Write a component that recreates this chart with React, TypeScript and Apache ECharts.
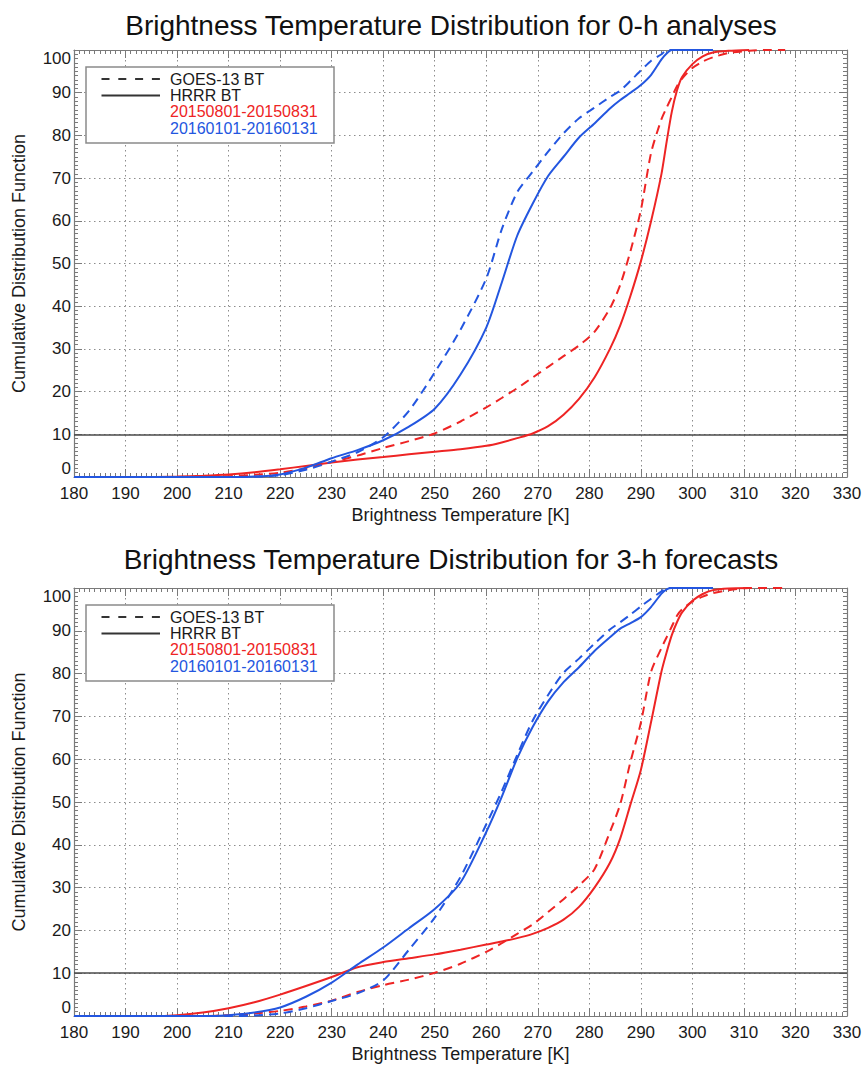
import React, { useEffect, useRef } from 'react';
import * as echarts from 'echarts';

// ---------- data ----------
const temperatures = [180, 195, 200, 205, 210, 215, 220, 225, 230, 235, 240, 245, 250, 255, 260, 263, 266, 269, 272, 275, 278, 281, 284, 286, 288, 290, 292, 294, 295, 296, 297, 298, 300, 302, 304, 307, 311, 314, 318];

// 0-h analyses
const analysisGoesAug = [0, 0, 0, 0, 0.2, 0.5, 1.0, 2.0, 3.5, 5.0, 6.8, 8.4, 10.2, 13, 16.3, 18.5, 20.8, 23.3, 25.8, 28.3, 30.8, 34, 39.5, 45, 53, 62.5, 76, 83.8, 86.5, 89, 91.5, 93.3, 95.8, 97.3, 98.3, 99.3, 99.8, 100, 100];
const analysisHrrrAug = [0, 0, 0.1, 0.3, 0.6, 1.1, 1.8, 2.6, 3.4, 4.1, 4.7, 5.3, 5.9, 6.5, 7.3, 8.1, 9.1, 10.2, 11.9, 14.6, 18.3, 23.3, 30, 35.5, 42.5, 50.5, 60, 71, 78.5, 85.5, 90.5, 93.7, 96.7, 98.5, 99.4, 99.8, 100, null, null];
const analysisGoesJan = [0, 0, 0, 0, 0, 0.05, 0.4, 1.7, 3.6, 5.8, 9.3, 15.5, 24.5, 34.5, 46.5, 58, 66.7, 71.5, 76.2, 80.5, 84, 86.5, 89, 90.5, 92.8, 95.2, 97.5, 99, 100, 100, 100, 100, 100, 100, 100, null, null, null, null];
const analysisHrrrJan = [0, 0, 0, 0, 0, 0.1, 0.6, 2.2, 4.4, 6.3, 8.6, 11.8, 16, 24, 35, 45.5, 56.5, 64, 70.5, 75, 79.5, 82.8, 86.3, 88.3, 90, 91.8, 94.2, 97.8, 99.2, 100, 100, 100, 100, 100, 100, null, null, null, null];

// 3-h forecasts
const forecastGoesAug = [0, 0, 0, 0, 0.2, 0.6, 1.2, 2.2, 3.6, 5.6, 7.2, 8.5, 10.1, 12.2, 15, 17, 19.2, 21.4, 24.3, 27.3, 30.5, 34.3, 43, 49.5, 59.5, 68.5, 80.5, 86, 88.5, 91, 93.5, 95, 96.8, 98, 98.8, 99.5, 100, 100, 100];
const forecastHrrrAug = [0, 0, 0.2, 0.8, 1.8, 3.2, 5, 7, 9.1, 11.4, 12.6, 13.5, 14.4, 15.5, 16.7, 17.4, 18.2, 19.2, 20.6, 22.5, 25.5, 30, 35.8, 41.5, 49.5, 57.5, 68.8, 80.5, 85, 89, 92, 94.3, 97, 98.6, 99.5, 99.9, 100, null, null];
const forecastGoesJan = [0, 0, 0, 0, 0, 0.1, 0.6, 1.8, 3.5, 5.3, 8.3, 15.5, 23, 32.5, 44.8, 52.5, 61, 69, 75, 80.2, 83.5, 87, 90.3, 92, 93.8, 95.7, 97.5, 99.2, 100, 100, 100, 100, 100, 100, 100, null, null, null, null];
const forecastHrrrJan = [0, 0, 0, 0, 0.2, 0.8, 2.0, 4.5, 7.8, 12, 16, 20.5, 25, 31.2, 43, 51.2, 60.2, 67.5, 73.5, 78, 81.5, 85.3, 88.5, 90.5, 91.8, 93.2, 95.6, 98.7, 99.7, 100, 100, 100, 100, 100, 100, null, null, null, null];

const referenceLevel = 10;
const titles = ['Brightness Temperature Distribution for 0-h analyses', 'Brightness Temperature Distribution for 3-h forecasts'];
const legendLabels = ['GOES-13 BT', 'HRRR BT', '20150801-20150831', '20160101-20160131'];

// ---------- styles ----------
const FONT = '"Liberation Sans", Arial, Helvetica, sans-serif';
const RED = '#ee2424';
const BLUE = '#2356e0';
const FRAME = '#7a7a7a';
const GRIDLINE = '#8c8c8c';
const TEXT = '#1a1a1a';

const grids = [
  { left: 74, top: 50, width: 773, height: 427 },
  { left: 74, top: 588, width: 773, height: 428 },
];

const pairs = (vals: (number | null)[]) =>
  temperatures.map((t, i) => [t, vals[i]]).filter((p) => p[1] !== null);

function curve(name: string, vals: (number | null)[], color: string, dashed: boolean, g: number, withRef: boolean) {
  const s: any = {
    type: 'line',
    name,
    data: pairs(vals),
    xAxisIndex: g * 2,
    yAxisIndex: g * 2,
    symbol: 'none',
    showSymbol: false,
    smooth: 0.25,
    clip: false,
    z: 3,
    lineStyle: { color, width: 2, type: dashed ? [9, 6] : 'solid' },
  };
  if (withRef) {
    s.markLine = {
      silent: true,
      symbol: ['none', 'none'],
      label: { show: false },
      lineStyle: { color: '#4a4a4a', width: 1.5, type: 'solid' },
      data: [{ yAxis: referenceLevel }],
      z: 2,
    };
  }
  return s;
}

function xAxes(g: number) {
  const base = {
    type: 'value',
    gridIndex: g,
    min: 180,
    max: 330,
    interval: 10,
    axisLine: { show: true, onZero: false, lineStyle: { color: FRAME, width: 1.2 } },
    axisTick: { show: true, inside: true, length: 8, lineStyle: { color: FRAME, width: 1 } },
    minorTick: { show: true, splitNumber: 10, length: 4, lineStyle: { color: FRAME, width: 1 } },
  };
  return [
    {
      ...base,
      position: 'bottom',
      axisLabel: { color: TEXT, fontSize: 17, fontFamily: FONT, margin: 8 },
      splitLine: { show: true, lineStyle: { color: GRIDLINE, width: 1, type: [1.5, 3.5] } },
      name: 'Brightness Temperature [K]',
      nameLocation: 'middle',
      nameGap: 29,
      nameTextStyle: { color: TEXT, fontSize: 18, fontFamily: FONT },
    },
    {
      ...base,
      position: 'top',
      axisLabel: { show: false },
      splitLine: { show: false },
    },
  ];
}

function yAxes(g: number) {
  const base = {
    type: 'value',
    gridIndex: g,
    min: 0,
    max: 100,
    interval: 10,
    axisLine: { show: true, onZero: false, lineStyle: { color: FRAME, width: 1.2 } },
    axisTick: { show: true, inside: true, length: 8, lineStyle: { color: FRAME, width: 1 } },
    minorTick: { show: true, splitNumber: 10, length: 4, lineStyle: { color: FRAME, width: 1 } },
  };
  return [
    {
      ...base,
      position: 'left',
      axisLabel: {
        color: TEXT,
        fontSize: 17,
        fontFamily: FONT,
        margin: 3,
        verticalAlignMinLabel: 'bottom',
        verticalAlignMaxLabel: 'top',
      },
      splitLine: { show: true, lineStyle: { color: GRIDLINE, width: 1, type: [1.5, 3.5] } },
      name: 'Cumulative Distribution Function',
      nameLocation: 'middle',
      nameGap: 46,
      nameTextStyle: { color: TEXT, fontSize: 18, fontFamily: FONT },
    },
    {
      ...base,
      position: 'right',
      axisLabel: { show: false },
      splitLine: { show: false },
    },
  ];
}

function legendGraphic(top: number) {
  const font = `16px ${FONT}`;
  const rows = [top + 12, top + 28.5, top + 44.5, top + 61];
  const colors = [TEXT, TEXT, RED, BLUE];
  const els: any[] = [
    {
      type: 'rect',
      z: 100,
      shape: { x: 86, y: top, width: 248, height: 76 },
      style: { fill: '#ffffff', stroke: '#8a8a8a', lineWidth: 1.5 },
    },
    {
      type: 'line',
      z: 101,
      shape: { x1: 101.5, y1: rows[0], x2: 160, y2: rows[0] },
      style: { stroke: '#333333', lineWidth: 2, lineDash: [8, 8.8] },
    },
    {
      type: 'line',
      z: 101,
      shape: { x1: 101.5, y1: rows[1], x2: 160, y2: rows[1] },
      style: { stroke: '#333333', lineWidth: 2 },
    },
  ];
  legendLabels.forEach((label, i) => {
    els.push({
      type: 'text',
      z: 101,
      x: 170,
      y: rows[i],
      style: { text: label, fill: colors[i], font, align: 'left', verticalAlign: 'middle' },
    });
  });
  return els;
}

const option: any = {
  animation: false,
  backgroundColor: '#ffffff',
  title: [
    {
      text: titles[0],
      left: 446,
      top: 6,
      textAlign: 'center',
      textStyle: { color: '#111', fontSize: 28, fontWeight: 'normal', fontFamily: FONT },
    },
    {
      text: titles[1],
      left: 446,
      top: 540,
      textAlign: 'center',
      textStyle: { color: '#111', fontSize: 28, fontWeight: 'normal', fontFamily: FONT },
    },
  ],
  grid: grids.map((g) => ({ ...g, show: false })),
  xAxis: [...xAxes(0), ...xAxes(1)],
  yAxis: [...yAxes(0), ...yAxes(1)],
  series: [
    curve('HRRR BT 20150801-20150831 (0-h)', analysisHrrrAug, RED, false, 0, true),
    curve('GOES-13 BT 20150801-20150831 (0-h)', analysisGoesAug, RED, true, 0, false),
    curve('HRRR BT 20160101-20160131 (0-h)', analysisHrrrJan, BLUE, false, 0, false),
    curve('GOES-13 BT 20160101-20160131 (0-h)', analysisGoesJan, BLUE, true, 0, false),
    curve('HRRR BT 20150801-20150831 (3-h)', forecastHrrrAug, RED, false, 1, true),
    curve('GOES-13 BT 20150801-20150831 (3-h)', forecastGoesAug, RED, true, 1, false),
    curve('HRRR BT 20160101-20160131 (3-h)', forecastHrrrJan, BLUE, false, 1, false),
    curve('GOES-13 BT 20160101-20160131 (3-h)', forecastGoesJan, BLUE, true, 1, false),
  ],
  graphic: [...legendGraphic(67), ...legendGraphic(605)],
};

export default function App() {
  const ref = useRef<HTMLDivElement>(null);
  useEffect(() => {
    if (!ref.current) return;
    const chart = echarts.init(ref.current, null, { renderer: 'svg' });
    chart.setOption(option);
    return () => chart.dispose();
  }, []);
  return (
    <div
      ref={ref}
      style={{ position: 'absolute', left: 0, top: 0, width: 866, height: 1066, background: '#fff' }}
    />
  );
}
